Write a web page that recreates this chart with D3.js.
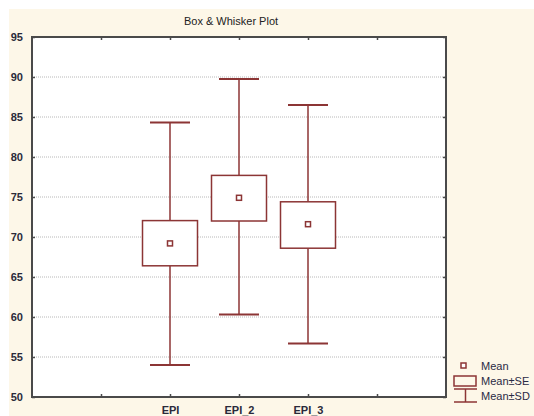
<!DOCTYPE html>
<html><head><meta charset="utf-8">
<script src="https://cdn.jsdelivr.net/npm/d3@7"></script>
<style>body{margin:0;background:#fff}svg{display:block}text{font-family:"Liberation Sans",Arial,sans-serif}</style>
</head><body><svg id="c" width="534" height="416"></svg>
<script>
const categories = ["EPI", "EPI_2", "EPI_3"];
const means = [69.2, 74.9, 71.6];
const seLow = [66.4, 72.0, 68.6];
const seHigh = [72.05, 77.7, 74.4];
const sdLow = [54.0, 60.3, 56.7];
const sdHigh = [84.3, 89.75, 86.5];
const yTicks = [50, 55, 60, 65, 70, 75, 80, 85, 90, 95];
const legendLabels = ["Mean", "Mean\u00b1SE", "Mean\u00b1SD"];

const col = "#8c3535", axisCol = "#4a4a4a";
const svg = d3.select("#c");
const m = {l:32, t:37, r:446, b:397};
svg.append("rect").attr("x",9).attr("y",9).attr("width",525).attr("height",407).attr("fill","#fdf7e8");
svg.append("rect").attr("x",m.l).attr("y",m.t).attr("width",m.r-m.l).attr("height",m.b-m.t).attr("fill","#fff");

const x = d3.scaleLinear().domain([0,6]).range([m.l,m.r]);
const pos = categories.map((c,i)=>i+2);
const y = d3.scaleLinear().domain([50,95]).range([m.b,m.t]);

// grid
svg.append("g").selectAll("line").data(yTicks.filter(v=>v>50&&v<95)).join("line")
  .attr("x1",m.l).attr("x2",m.r).attr("y1",d=>y(d)).attr("y2",d=>y(d))
  .attr("stroke","#b8b8b8").attr("stroke-width",1).attr("stroke-dasharray","1,1");

// axes
const axLeft = svg.append("g").attr("transform",`translate(${m.l},0)`)
  .call(d3.axisLeft(y).tickValues(yTicks).tickSize(-3).tickPadding(9));
const axRight = svg.append("g").attr("transform",`translate(${m.r},0)`)
  .call(d3.axisRight(y).tickValues(yTicks).tickSize(-3).tickFormat(""));
const xt = [1,2,3,4,5];
const axBottom = svg.append("g").attr("transform",`translate(0,${m.b})`)
  .call(d3.axisBottom(x).tickValues(xt).tickSize(-3).tickPadding(9).tickFormat(d=>{const i=pos.indexOf(d);return i>=0?categories[i]:"";}));
const axTop = svg.append("g").attr("transform",`translate(0,${m.t})`)
  .call(d3.axisTop(x).tickValues(xt).tickSize(-3).tickFormat(""));
[axLeft,axRight,axBottom,axTop].forEach(g=>{
  g.select(".domain").remove();
  g.selectAll(".tick line").attr("stroke",axisCol).attr("stroke-width",1.5);
  g.selectAll("text").attr("fill","#2a2a3a").attr("font-size",11).attr("font-weight","bold").attr("font-family","'Liberation Sans',Arial,sans-serif");
});
axLeft.selectAll("text").attr("dy","0.35em");
svg.append("rect").attr("x",m.l).attr("y",m.t).attr("width",m.r-m.l).attr("height",m.b-m.t)
  .attr("fill","none").attr("stroke",axisCol).attr("stroke-width",2);

// title
svg.append("text").attr("x",231).attr("y",25).attr("text-anchor","middle").attr("font-size",11).attr("fill","#222")
  .text("Box & Whisker Plot");

// boxes
const boxW = 55, capW = 40;
const g = svg.append("g");
categories.forEach((c,i)=>{
  const cx = x(pos[i]);
  g.append("line").attr("x1",cx).attr("x2",cx).attr("y1",y(sdHigh[i])).attr("y2",y(seHigh[i])).attr("stroke",col).attr("stroke-width",1.5);
  g.append("line").attr("x1",cx).attr("x2",cx).attr("y1",y(seLow[i])).attr("y2",y(sdLow[i])).attr("stroke",col).attr("stroke-width",1.5);
  [sdHigh[i], sdLow[i]].forEach(v=>g.append("line").attr("x1",cx-capW/2).attr("x2",cx+capW/2).attr("y1",y(v)).attr("y2",y(v)).attr("stroke",col).attr("stroke-width",2));
  g.append("rect").attr("x",cx-boxW/2).attr("y",y(seHigh[i])).attr("width",boxW).attr("height",y(seLow[i])-y(seHigh[i]))
    .attr("fill","#fff").attr("stroke",col).attr("stroke-width",1.5);
  g.append("rect").attr("x",cx-2.5).attr("y",y(means[i])-2.5).attr("width",5).attr("height",5).attr("fill","#fff").attr("stroke",col).attr("stroke-width",1.5);
});

// legend
const lg = svg.append("g");
lg.append("rect").attr("x",461).attr("y",363).attr("width",5).attr("height",5).attr("fill","#fff").attr("stroke",col).attr("stroke-width",1.5);
lg.append("rect").attr("x",454).attr("y",376).attr("width",22).attr("height",10).attr("fill","none").attr("stroke",col).attr("stroke-width",1.5);
lg.append("line").attr("x1",454).attr("x2",477).attr("y1",389).attr("y2",389).attr("stroke",col).attr("stroke-width",1.5);
lg.append("line").attr("x1",465.5).attr("x2",465.5).attr("y1",389).attr("y2",402).attr("stroke",col).attr("stroke-width",1.5);
lg.append("line").attr("x1",454).attr("x2",477).attr("y1",402).attr("y2",402).attr("stroke",col).attr("stroke-width",1.5);
lg.selectAll("text").data(legendLabels).join("text")
  .attr("x",481).attr("y",(d,i)=>366+i*15).attr("dy","0.35em").attr("font-size",11).attr("fill","#2a2a44").text(d=>d);
</script></body></html>
